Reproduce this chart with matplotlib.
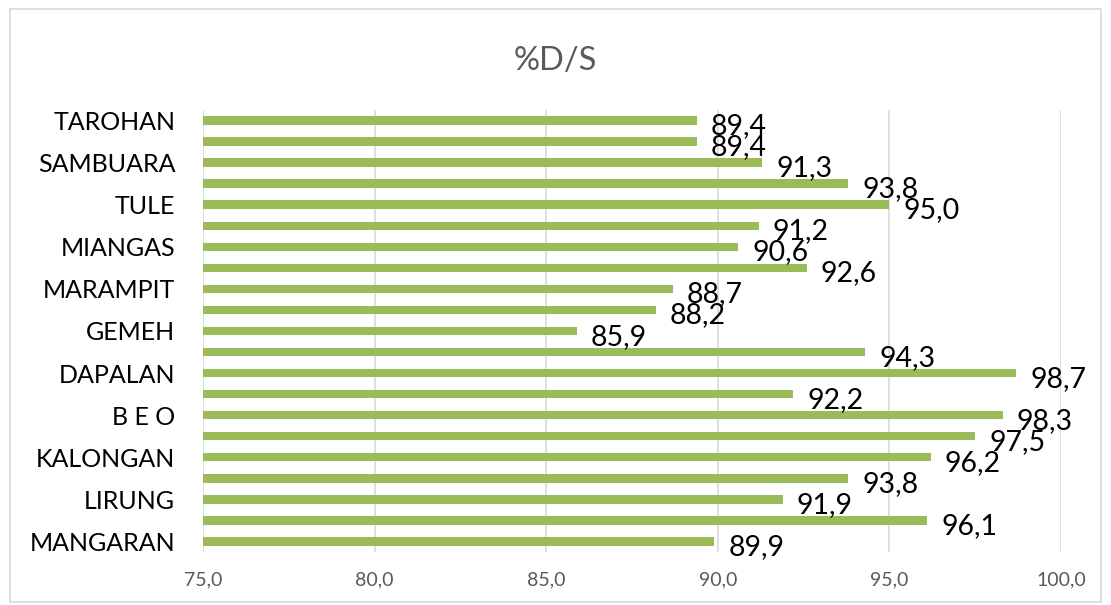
import matplotlib.pyplot as plt
from matplotlib.patches import Rectangle

# data, bottom to top
categories = ["MANGARAN", "", "LIRUNG", "", "KALONGAN", "", "B E O", "",
              "DAPALAN", "", "GEMEH", "", "MARAMPIT", "", "MIANGAS", "",
              "TULE", "", "SAMBUARA", "", "TAROHAN"]
values = [89.9, 96.1, 91.9, 93.8, 96.2, 97.5, 98.3, 92.2, 98.7, 94.3, 85.9,
          88.2, 88.7, 92.6, 90.6, 91.2, 95.0, 93.8, 91.3, 89.4, 89.4]
x_ticks = [75, 80, 85, 90, 95, 100]
title = "%D/S"

plt.rcParams['font.family'] = ['Lato', 'DejaVu Sans']

fig = plt.figure(figsize=(11.11, 6.05), dpi=100, facecolor='white')
ax = fig.add_axes([0.1827, 0.0876, 0.7723, 0.7306])

# outer chart frame
fig.patches.append(Rectangle((0.009, 0.005), 0.982, 0.98, transform=fig.transFigure,
                             fill=False, edgecolor='#d9d9d9', linewidth=1.2))

pos = list(range(len(values)))
ax.barh(pos, [v - 75 for v in values], left=75, height=0.4, color='#9BBB59', zorder=3)

for p, v in zip(pos, values):
    ax.annotate(f"{v:.1f}".replace('.', ','), xy=(v, p), xytext=(10, -4),
                textcoords='offset points', ha='left', va='center',
                fontsize=20.5, color='black', zorder=4)

ax.set_xlim(75, 100)
ax.set_ylim(-0.5, len(values) - 0.5)
ax.set_xticks(x_ticks)
ax.set_xticklabels([f"{t:.1f}".replace('.', ',') for t in x_ticks],
                   fontsize=14, color='#595959')
ax.set_yticks(pos)
ax.set_yticklabels(categories, fontsize=18, color='black')
ax.tick_params(axis='both', length=0)
ax.tick_params(axis='y', pad=20)
ax.tick_params(axis='x', pad=14)
ax.grid(axis='x', color='#d9d9d9', linewidth=1.2, zorder=0)
for s in ax.spines.values():
    s.set_visible(False)

fig.text(0.5, 0.9, title, ha='center', va='center', fontsize=23.5, color='#595959')

fig.savefig('out.png', dpi=100, facecolor='white')
